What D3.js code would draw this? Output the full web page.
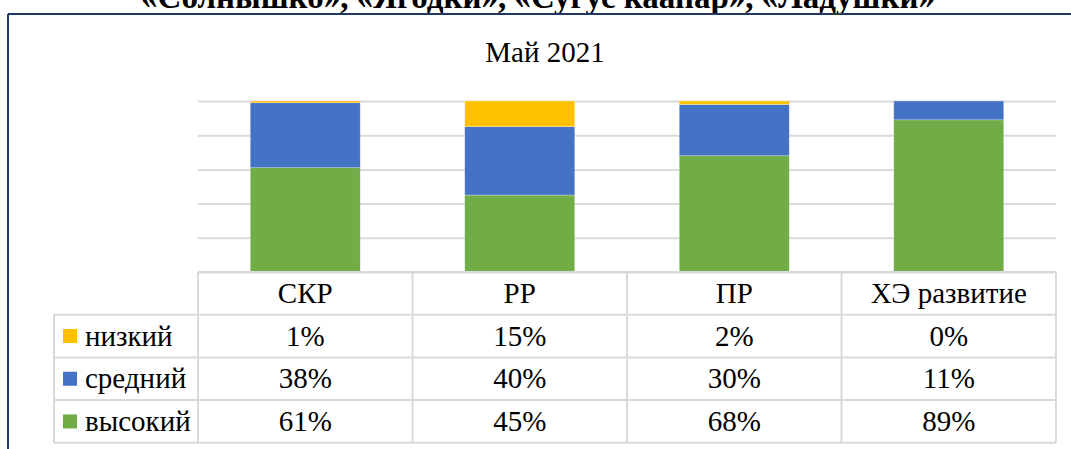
<!DOCTYPE html>
<html>
<head>
<meta charset="utf-8">
<script src="https://cdn.jsdelivr.net/npm/d3@7"></script>
<style>
  body { margin: 0; background: #fff; }
  svg { display: block; }
</style>
</head>
<body>
<svg id="chart" width="1071" height="449"></svg>
<script>
const categories = ['СКР', 'РР', 'ПР', 'ХЭ развитие']
const levels = ['высокий', 'средний', 'низкий']
const high = [61, 45, 68, 89]
const mid = [38, 40, 30, 11]
const low = [1, 15, 2, 0]
const yTicks = [0, 20, 40, 60, 80, 100]

const colors = { 'низкий': '#FFC000', 'средний': '#4472C4', 'высокий': '#70AD47' }
const gridColor = '#d9d9d9'
const frameColor = '#1f3864'
const fontSize = 29
const serif = "'Liberation Serif', 'Times New Roman', serif"

const svg = d3.select('#chart')
const width = +svg.attr('width')

const plotLeft = 198
const plotRight = 1056
const plotTop = 101
const plotBottom = 272
const rowH = 42.7

const data = categories.map((c, i) => ({ cat: c, 'высокий': high[i], 'средний': mid[i], 'низкий': low[i] }))
const stack = d3.stack().keys(levels)(data)

const xScale = d3.scaleBand().domain(categories).range([plotLeft, plotRight]).paddingInner(0).paddingOuter(0)
const yScale = d3.scaleLinear().domain([0, 100]).range([plotBottom, plotTop])

// cut-off heading from the page above
svg.append('text')
	.attr('x', 538).attr('y', 8)
	.attr('text-anchor', 'middle')
	.style('font-family', serif)
	.attr('font-weight', 'bold')
	.attr('font-size', 33)
	.text('«Солнышко», «Ягодки», «Сугус каапар», «Ладушки»')

// frame
svg.append('line').attr('x1', 8).attr('x2', width).attr('y1', 14).attr('y2', 14)
	.attr('stroke', frameColor).attr('stroke-width', 2)
svg.append('line').attr('x1', 8).attr('x2', 8).attr('y1', 14).attr('y2', 449)
	.attr('stroke', frameColor).attr('stroke-width', 2)

svg.append('text')
	.attr('x', 545).attr('y', 62)
	.attr('text-anchor', 'middle')
	.style('font-family', serif)
	.attr('font-size', fontSize)
	.text('Май 2021')

// gridlines
const yAxis = d3.axisLeft(yScale).tickValues(yTicks).tickSize(-(plotRight - plotLeft)).tickFormat('')
const grid = svg.append('g').attr('transform', `translate(${plotLeft},0)`).call(yAxis)
grid.select('.domain').remove()
grid.selectAll('.tick line').attr('stroke', gridColor).attr('stroke-width', 2)

// bars
const barW = 110
svg.selectAll('g.layer')
	.data(stack)
	.enter()
	.append('g')
		.attr('class', 'layer')
		.attr('fill', d => colors[d.key])
	.selectAll('rect')
	.data(d => d)
	.enter()
	.append('rect')
		.attr('x', d => xScale(d.data.cat) + (xScale.bandwidth() - barW) / 2)
		.attr('width', barW)
		.attr('y', d => yScale(d[1]))
		.attr('height', d => yScale(d[0]) - yScale(d[1]))
		.attr('stroke', '#fff')
		.attr('stroke-opacity', 0.4)
		.attr('stroke-width', 0.7)

// data table
const rows = ['низкий', 'средний', 'высокий']
const values = { 'низкий': low, 'средний': mid, 'высокий': high }
const tableLeft = 54
const tbl = svg.append('g').attr('fill', 'none').attr('stroke', gridColor).attr('stroke-width', 2)

// horizontal lines
tbl.append('line').attr('x1', plotLeft).attr('x2', plotRight).attr('y1', plotBottom).attr('y2', plotBottom)
d3.range(1, 5).forEach(r => {
	tbl.append('line').attr('x1', tableLeft).attr('x2', plotRight)
		.attr('y1', plotBottom + r * rowH).attr('y2', plotBottom + r * rowH)
})
// vertical lines
tbl.append('line').attr('x1', tableLeft).attr('x2', tableLeft)
	.attr('y1', plotBottom + rowH).attr('y2', plotBottom + 4 * rowH)
categories.concat(['end']).forEach((c, i) => {
	const x = i < categories.length ? xScale(c) : plotRight
	tbl.append('line').attr('x1', x).attr('x2', x).attr('y1', plotBottom).attr('y2', plotBottom + 4 * rowH)
})

// header texts
svg.selectAll('text.cat')
	.data(categories)
	.enter()
	.append('text')
		.attr('class', 'cat')
		.attr('x', d => xScale(d) + xScale.bandwidth() / 2)
		.attr('y', plotBottom + rowH / 2 + 10)
		.attr('text-anchor', 'middle')
		.style('font-family', serif)
		.attr('font-size', fontSize)
		.text(d => d)

rows.forEach((r, ri) => {
	const cy = plotBottom + (ri + 1) * rowH + rowH / 2
	svg.append('rect')
		.attr('x', 63).attr('y', cy - 7).attr('width', 14).attr('height', 14)
		.attr('fill', colors[r])
	svg.append('text')
		.attr('x', 85).attr('y', cy + 9.5)
		.style('font-family', serif)
		.attr('font-size', fontSize)
		.text(r)
	svg.selectAll('text.v' + ri)
		.data(values[r])
		.enter()
		.append('text')
			.attr('x', (d, i) => xScale(categories[i]) + xScale.bandwidth() / 2)
			.attr('y', cy + 9.5)
			.attr('text-anchor', 'middle')
			.style('font-family', serif)
			.attr('font-size', fontSize)
			.text(d => d + '%')
})
</script>
</body>
</html>
